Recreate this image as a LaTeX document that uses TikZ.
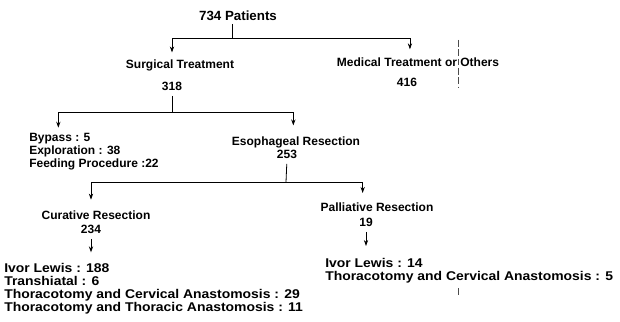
\documentclass[tikz,border=0pt]{standalone}
\usepackage{fontspec}
\setmainfont{Liberation Sans}
\newfontfamily\leaffont[FakeStretch=1.1]{Liberation Sans}
\usepackage{tikz}
\usetikzlibrary{arrows.meta,positioning,calc}

\tikzset{
  lbl/.style={font=\bfseries\fontsize{9}{9.75}\selectfont, inner sep=0pt},
  list/.style={lbl, align=left, anchor=north west},
  leaf/.style={font=\leaffont\bfseries\fontsize{9.5}{9.75}\selectfont, inner sep=0pt, align=left, anchor=north west},
  conn/.style={line width=0.6pt},
  arr/.style={line width=0.6pt, -{Stealth[length=4.5pt,width=3.2pt]}},
  seam/.style={line width=0.5pt, dash pattern=on 5pt off 2pt, black!70}
}

\begin{document}
\begin{tikzpicture}[x=0.75pt,y=-0.75pt]
    \useasboundingbox (0,0) rectangle (620,321);

    % Top
    \node[lbl, font=\bfseries\fontsize{10}{11}\selectfont] (pat) at (238,16) {734 Patients};
    \node[lbl] (surg) at (180,65) {Surgical Treatment};
    \node[lbl] (n318) at (172,86) {318};
    \node[lbl] (med) at (418,62) {Medical Treatment or Others};
    \node[lbl] (n416) at (407,82) {416};
    \coordinate (j1) at (232,38);
    \draw[conn, shorten <=2pt] (j1 |- pat.south) -- (j1);
    \draw[arr, shorten >=5pt] (j1) -| (n318 |- surg.north);
    \draw[arr, shorten >=6pt] (j1) -| ([xshift=2.2pt]n416.north |- med.north);
    \draw[seam] (458,40) -- (458,87);

    % Surgical treatment
    \node[list] (minor) at (29,133) {Bypass : 5\\Exploration : 38\\Feeding Procedure :22};
    \node[lbl] (eso) at (296,142) {Esophageal Resection};
    \node[lbl] (n253) at (287,154) {253};
    \coordinate (j2) at (172,112);
    \draw[conn, shorten <=4pt] (n318.south) -- (j2);
    \draw[arr, shorten >=4pt] (j2) -| ([xshift=22pt]minor.north west);
    \draw[arr, shorten >=8pt] (j2) -| ([xshift=-2pt]eso.north);

    % Esophageal resection
    \node[lbl] (cur) at (96,215) {Curative Resection};
    \node[lbl] (n234) at (91,229) {234};
    \node[lbl] (pal) at (377,207) {Palliative Resection};
    \node[lbl] (n19) at (366,222) {19};
    \coordinate (j3) at (286,182);
    \draw[conn, shorten <=4pt] (n253.south) -- (j3);
    \draw[arr, shorten >=8pt] (j3) -| (n234 |- cur.north);
    \draw[arr, shorten >=7pt] (j3) -| ([xshift=-2.5pt]n19 |- pal.north);

    % Operations
    \node[leaf] (curops) at (4,263) {Ivor Lewis : 188\\Transhiatal : 6\\Thoracotomy and Cervical Anastomosis : 29\\Thoracotomy and Thoracic Anastomosis : 11};
    \node[leaf] (palops) at (325,258) {Ivor Lewis : 14\\Thoracotomy and Cervical Anastomosis : 5};
    \draw[arr, shorten <=4pt, shorten >=8pt] (n234.south) -- (n234.south |- curops.north);
    \draw[arr, shorten <=4pt, shorten >=9pt] (n19.south) -- (n19.south |- palops.north);
    \draw[seam] (458,288) -- (458,297);
\end{tikzpicture}
\end{document}
